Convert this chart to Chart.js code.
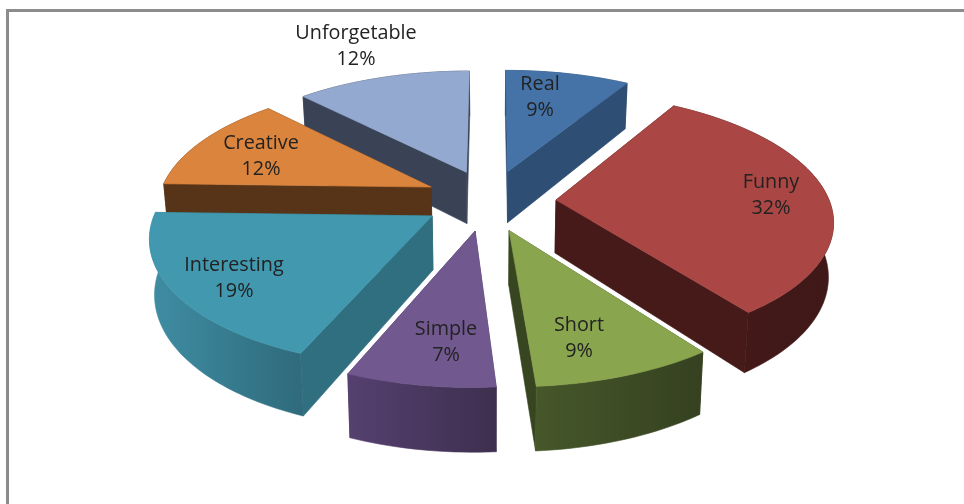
<!DOCTYPE html>
<html><head><meta charset="utf-8">
<style>html,body{margin:0;padding:0;background:#fff}#w{position:relative;width:964px;height:504px;overflow:hidden}</style>
<script src="https://cdn.jsdelivr.net/npm/chart.js@4"></script>
</head><body><div id="w"><canvas id="c"></canvas></div>
<script>
const categories = ['Real','Funny','Short','Simple','Interesting','Creative','Unforgetable'];
const percentValues = [9,32,9,7,19,12,12];
const explodeOffset = [66,66,66,66,66,66,66];
const topColors = ['#4573a7','#aa4643','#89a54e','#71588f','#4198af','#db843d','#93a9cf'];
const faceColors = ['#2e4e73','#451a19','#384521','#4a3a5e','#2f6f80','#573317','#3a4356'];
const wallLeft = ['#2e4e73','#451a19','#46572a','#55406f','#3f8da3','#573317','#3a4356'];
const wallRight = ['#2e4e73','#3f1817','#354120','#3e2f4f','#2f6b7c','#573317','#3a4356'];
const labelCenters = [[540,97],[771,195],[579,338],[446,342],[234,278],[261,156],[356,46]];
const paintOrder = [6,0,5,1,4,3,2];
const viewSkew = [[0,0],[32.4,-1.4],[147.6,-4],[180,-4.1],[205.2,-2.9],[273.6,-2],[316.8,-0.5],[360,0]];

const DISK_X = 273, DISK_Y = 265, PERSP = 0.00055, TILT = 0.466, DEPTH = 53, CONVERGE = 0.985;

function warp(t){
  const d=((t+Math.PI/2)*180/Math.PI+720)%360;
  for(let i=1;i<viewSkew.length;i++){
    if(d<=viewSkew[i][0]+1e-6){
      const [a,p]=viewSkew[i-1],[b,q]=viewSkew[i];
      return t+(p+(q-p)*(d-a)/(b-a))*Math.PI/180;
    }
  }
  return t;
}

const pie3d = {
  id: 'pie3d',
  beforeDraw(chart) {
    const c = chart.ctx;
    c.save();
    c.fillStyle = '#fff'; c.fillRect(0,0,chart.width,chart.height);
    c.fillStyle = '#8c8c8c';
    c.fillRect(6,9,chart.width-6,3);
    c.fillRect(6,9,3,chart.height-9);
    c.restore();
  },
  beforeDatasetDraw(chart) {
    const c = chart.ctx, arcs = chart.getDatasetMeta(0).data;
    const fill = (pts, style) => {
      c.beginPath();
      pts.forEach((p,i)=> i?c.lineTo(p.x,p.y):c.moveTo(p.x,p.y));
      c.closePath();
      c.fillStyle = style; c.fill();
      c.strokeStyle = style; c.lineWidth = 0.6; c.stroke();
    };
    paintOrder.forEach(i => {
      const a = arcs[i], cx = a.x, cy = a.y;
      const mid = (a.startAngle+a.endAngle)/2, e = a.options.offset;
      const ox = Math.cos(mid)*e, oy = Math.sin(mid)*e;
      const top = (u,v)=>{const s=1/(1-PERSP*v);return {x:cx+u*s,y:cy+TILT*v*s,s};};
      const bot = p=>({x:cx+(p.x-cx)*CONVERGE,y:p.y+DEPTH*p.s});
      const apex = top(ox,oy), rim = [];
      const n = Math.max(8,Math.round((a.endAngle-a.startAngle)*40));
      for (let k=0;k<=n;k++){
        const t=warp(a.startAngle+(a.endAngle-a.startAngle)*k/n);
        rim.push(top(ox+DISK_X*Math.cos(t),oy+DISK_Y*Math.sin(t)));
      }
      const first=rim[0], last=rim[n];
      const faces=[[apex,first],[apex,last]].sort((f,g)=>(f[1].y)-(g[1].y));
      faces.forEach(f=>fill([f[0],f[1],bot(f[1]),bot(f[0])],faceColors[i]));
      const xs=rim.map(p=>p.x), g=c.createLinearGradient(Math.min(...xs),0,Math.max(...xs),0);
      g.addColorStop(0,wallLeft[i]); g.addColorStop(1,wallRight[i]);
      fill([...rim,...rim.map(bot).reverse()],g);
      fill([apex,...rim],topColors[i]);
    });
    return false;
  },
  afterDatasetsDraw(chart) {
    const c = chart.ctx;
    c.save();
    c.font = '19.8px "Open Sans"';
    c.fillStyle = '#222';
    c.textAlign='center'; c.textBaseline='middle';
    categories.forEach((n,i)=>{
      const [x,y]=labelCenters[i];
      c.fillText(n,x,y-13);
      c.fillText(percentValues[i]+'%',x,y+13);
    });
    c.restore();
  }
};

new Chart(document.getElementById('c'),{
  type:'pie',
  data:{labels:categories,datasets:[{data:percentValues,backgroundColor:topColors,offset:explodeOffset,borderWidth:0}]},
  options:{
    responsive:true,maintainAspectRatio:false,animation:false,
    layout:{padding:{left:16,bottom:104}},
    plugins:{legend:{display:false},tooltip:{enabled:false}}
  },
  plugins:[pie3d]
});
</script></body></html>
